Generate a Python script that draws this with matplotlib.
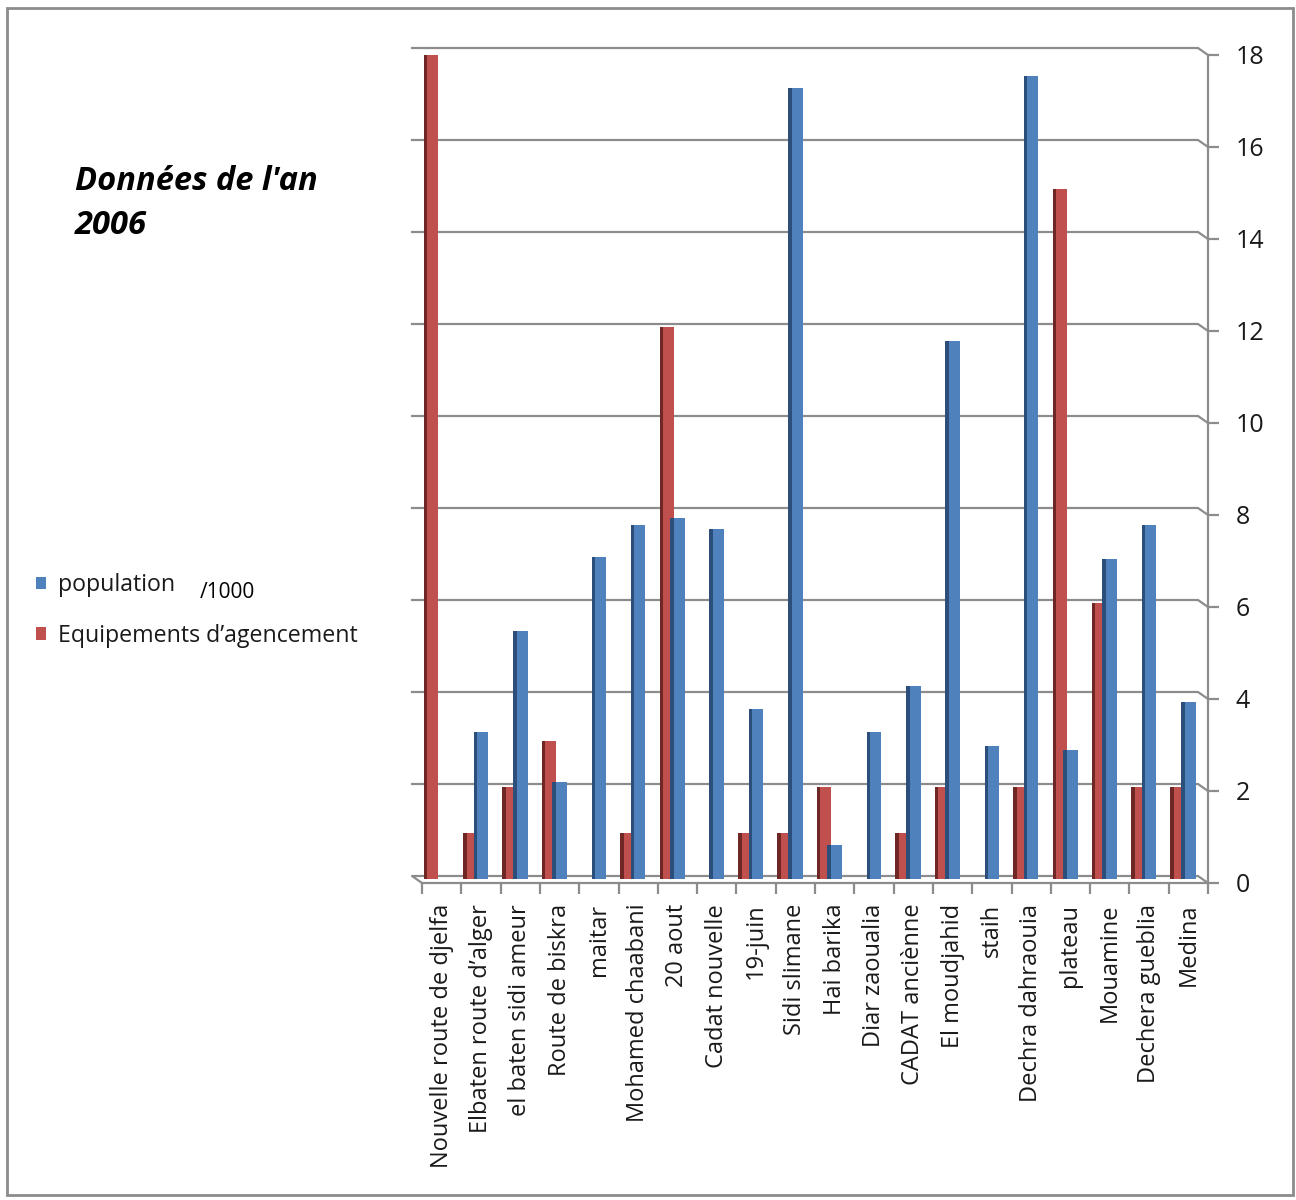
import matplotlib
matplotlib.use("Agg")
import matplotlib.pyplot as plt
import matplotlib.transforms as mtransforms
import numpy as np
from matplotlib.patches import Patch, Rectangle

# Data
categories = [
    "Nouvelle route de djelfa", "Elbaten route d\u2019alger", "el baten sidi ameur",
    "Route de biskra", "maitar", "Mohamed chaabani", "20 aout", "Cadat nouvelle",
    "19-juin", "Sidi slimane", "Hai barika", "Diar zaoualia", "CADAT anci\u00e8nne",
    "El moudjahid", "staih", "Dechra dahraouia", "plateau", "Mouamine",
    "Dechera gueblia", "Medina",
]
population = [0, 3.2, 5.4, 2.1, 7.0, 7.7, 7.85, 7.6, 3.7, 17.2,
              0.75, 3.2, 4.2, 11.7, 2.9, 17.45, 2.8, 6.95, 7.7, 3.85]
equipements = [18, 1, 2, 3, 0, 1, 12, 0, 1, 1,
               2, 0, 1, 2, 0, 2, 15, 6, 2, 2]
y_ticks = [0, 2, 4, 6, 8, 10, 12, 14, 16, 18]

blue, blue_dark = "#4F81BD", "#2B4E7A"
red, red_dark = "#C0504D", "#6E2725"
grid_color = "#8C8C8C"

plt.rcParams["font.family"] = ["Open Sans", "DejaVu Sans"]

W, H = 1296, 1200
fig = plt.figure(figsize=(W / 100, H / 100), dpi=100)

# axes: front floor at y=883px, top (18) at 55px, categories from 422 to 1208 px
ax_left, ax_right, ax_bottom, ax_top = 422, 1208, 883, 55
ax = fig.add_axes([ax_left / W, 1 - ax_bottom / H,
                   (ax_right - ax_left) / W, (ax_bottom - ax_top) / H])
n = len(categories)
x = np.arange(n)
ax.set_xlim(-0.5, n - 0.5)
ax.set_ylim(0, 18)

# 3D back wall offset (10 px left, 7 px up), in data units
dx = 10 / ((ax_right - ax_left) / n)
dy = 7 / ((ax_bottom - ax_top) / 18)

for v in y_ticks[1:]:
    ax.plot([-0.5 - dx, n - 0.5 - dx, n - 0.5], [v + dy, v + dy, v],
            color=grid_color, lw=1.6, clip_on=False, zorder=1)
# floor
ax.plot([-0.5, -0.5 - dx, n - 0.5 - dx, n - 0.5], [0, dy, dy, 0],
        color=grid_color, lw=1.6, clip_on=False, zorder=1)

# bars (pseudo-3D: darker left face), sitting a bit back in depth
depth = mtransforms.ScaledTranslation(0, 4 / 100, fig.dpi_scale_trans)
w = 0.37
strip = 0.09
red_off, blue_off = -0.27, 0.0
containers = [
    ax.bar(x + red_off, equipements, width=w, color=red, zorder=3),
    ax.bar(x + red_off - w / 2, equipements, width=strip, align="edge",
           color=red_dark, zorder=3.5),
    ax.bar(x + blue_off, population, width=w, color=blue, zorder=4),
    ax.bar(x + blue_off - w / 2, population, width=strip, align="edge",
           color=blue_dark, zorder=4.5),
]
for c in containers:
    for p in c:
        p.set_transform(ax.transData + depth)

# spines
for s in ["top", "left"]:
    ax.spines[s].set_visible(False)
for s in ["bottom", "right"]:
    ax.spines[s].set_color(grid_color)
    ax.spines[s].set_linewidth(1.6)

# x axis
ax.set_xticks(x)
ax.set_xticklabels(categories, rotation=90, va="top", ha="center")
ax.set_xticks(np.arange(-0.5, n, 1), minor=True)
ax.tick_params(axis="x", which="major", length=0, pad=15, labelsize=17,
               labelcolor="#1a1a1a")
ax.tick_params(axis="x", which="minor", length=8, width=1.6, color=grid_color,
               direction="out")

# y axis on the right
ax.yaxis.tick_right()
ax.set_yticks(y_ticks)
ax.tick_params(axis="y", which="major", length=8, width=1.6, color=grid_color,
               direction="out", pad=12, labelsize=18, labelcolor="#1a1a1a")

# title
fig.text(75 / W, 1 - 182 / H, "Donn\u00e9es de l'an", fontsize=23.5,
         fontweight="bold", style="italic", va="center", ha="left")
fig.text(75 / W, 1 - 225 / H, "2006", fontsize=23.5,
         fontweight="bold", style="italic", va="center", ha="left")

# legend
handles = [Patch(facecolor=blue), Patch(facecolor=red)]
fig.legend(handles, ["population", "Equipements d\u2019agencement"],
           loc="upper left", bbox_to_anchor=(36 / W, 1 - 573 / H),
           frameon=False, fontsize=16.7, handlelength=0.45, handleheight=0.45,
           handletextpad=0.5, labelspacing=1.15, borderpad=0, borderaxespad=0,
           labelcolor="#1a1a1a")
fig.text(200 / W, 1 - 593 / H, "/1000", fontsize=15, va="center", ha="left")

# outer border
fig.patches.append(Rectangle((7 / W, 1 - 1195 / H), (1293 - 7) / W, (1195 - 8) / H,
                             transform=fig.transFigure, fill=False,
                             edgecolor="#8C8C8C", lw=2))

fig.savefig("out.png", dpi=100)
